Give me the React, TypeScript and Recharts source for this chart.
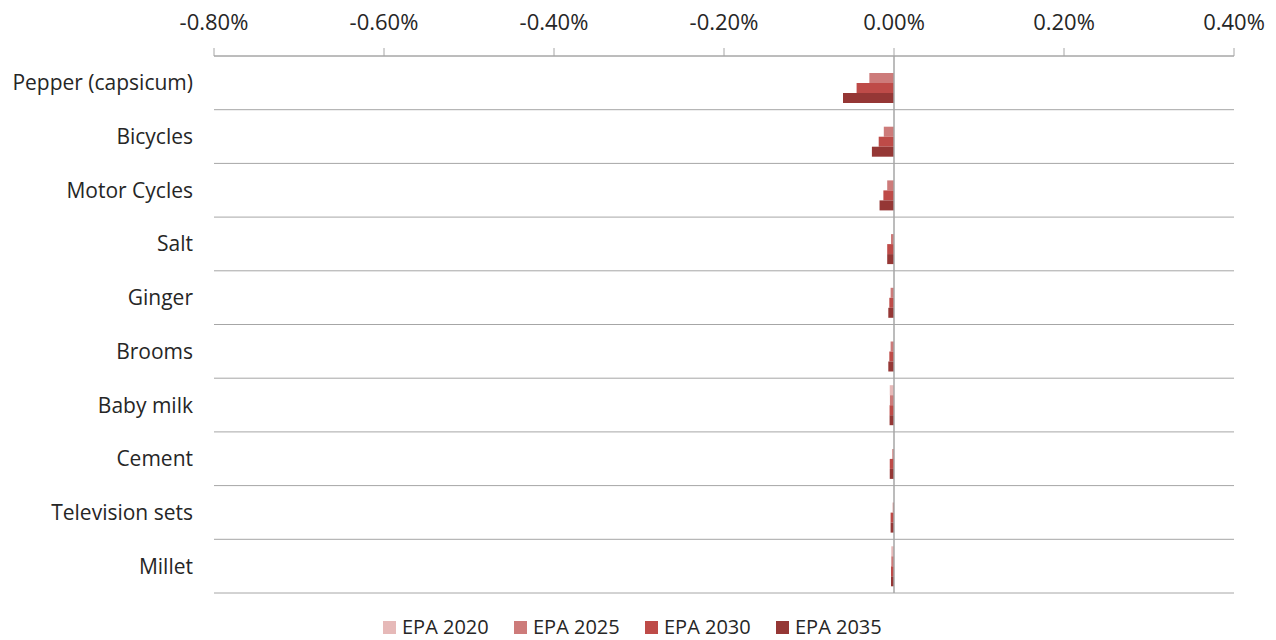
import React from 'react';
import { BarChart, Bar, XAxis, YAxis, CartesianGrid, ReferenceLine, Legend } from 'recharts';

const categories = ['Pepper (capsicum)', 'Bicycles', 'Motor Cycles', 'Salt', 'Ginger', 'Brooms', 'Baby milk ', 'Cement', 'Television sets', 'Millet'];
const epa2020 = [0, 0, 0, 0, 0, 0, -0.005, 0, 0, -0.0032];
const epa2025 = [-0.029, -0.012, -0.008, -0.0035, -0.004, -0.004, -0.0048, -0.002, -0.0015, -0.0032];
const epa2030 = [-0.044, -0.018, -0.0125, -0.008, -0.0055, -0.0055, -0.0052, -0.005, -0.004, -0.0035];
const epa2035 = [-0.060, -0.026, -0.017, -0.008, -0.0067, -0.0067, -0.0052, -0.005, -0.004, -0.0035];
const xTicks = [-0.8, -0.6, -0.4, -0.2, 0, 0.2, 0.4];

const seriesNames = ['EPA 2020', 'EPA 2025', 'EPA 2030', 'EPA 2035'];
const seriesKeys = ['e2020', 'e2025', 'e2030', 'e2035'];
const seriesColors = ['#E6B9B8', '#CD7B7A', '#BE4B48', '#953735'];

const data = categories.map((c, i) => ({
  name: c,
  e2020: epa2020[i],
  e2025: epa2025[i],
  e2030: epa2030[i],
  e2035: epa2035[i],
}));

const FONT = '"Open Sans", sans-serif';
const TEXT = '#262626';
const GRID = '#A6A6A6';

const LegendContent = () => (
  <div style={{ display: 'flex', fontFamily: FONT, fontSize: 20, color: TEXT, lineHeight: '20px', height: 20 }}>
    {seriesNames.map((n, i) => (
      <div key={n} style={{ display: 'flex', alignItems: 'center', width: 131 }}>
        <span style={{ display: 'inline-block', width: 13, height: 13, background: seriesColors[i], marginRight: 6 }} />
        <span>{n}</span>
      </div>
    ))}
  </div>
);

export default function App() {
  return (
    <div style={{ position: 'absolute', left: 0, top: 0, width: 1276, height: 640, background: '#fff' }}>
      <BarChart
        width={1276}
        height={640}
        data={data}
        layout="vertical"
        margin={{ top: 0, right: 42, bottom: 27, left: 0 }}
        barGap={0}
        barSize={10}
      >
        <CartesianGrid
          vertical={false}
          stroke={GRID}
          horizontalCoordinatesGenerator={({ offset }: any) =>
            Array.from({ length: categories.length + 1 }, (_, i) => offset.top + (i * offset.height) / categories.length)
          }
        />
        <XAxis
          type="number"
          orientation="top"
          domain={[-0.8, 0.4]}
          ticks={xTicks}
          height={56}
          tickFormatter={(v: number) => `${v.toFixed(2)}%`}
          axisLine={{ stroke: GRID }}
          tickLine={{ stroke: GRID }}
          tickSize={8}
          tickMargin={18}
          tick={{ fill: TEXT, fontSize: 22, fontFamily: FONT }}
          interval={0}
        />
        <YAxis
          type="category"
          dataKey="name"
          width={214}
          axisLine={false}
          tickLine={false}
          tickSize={6}
          tickMargin={15}
          interval={0}
          tick={{ fill: TEXT, fontSize: 21, fontFamily: FONT }}
        />
        {seriesKeys.map((k, i) => (
          <Bar key={k} dataKey={k} name={seriesNames[i]} fill={seriesColors[i]} isAnimationActive={false} />
        ))}
        <ReferenceLine x={0} stroke={GRID} strokeWidth={1.5} />
        <Legend
          content={<LegendContent />}
          wrapperStyle={{ position: 'absolute', top: 617, left: 383, width: 600, bottom: 'auto', height: 20 }}
        />
      </BarChart>
    </div>
  );
}
